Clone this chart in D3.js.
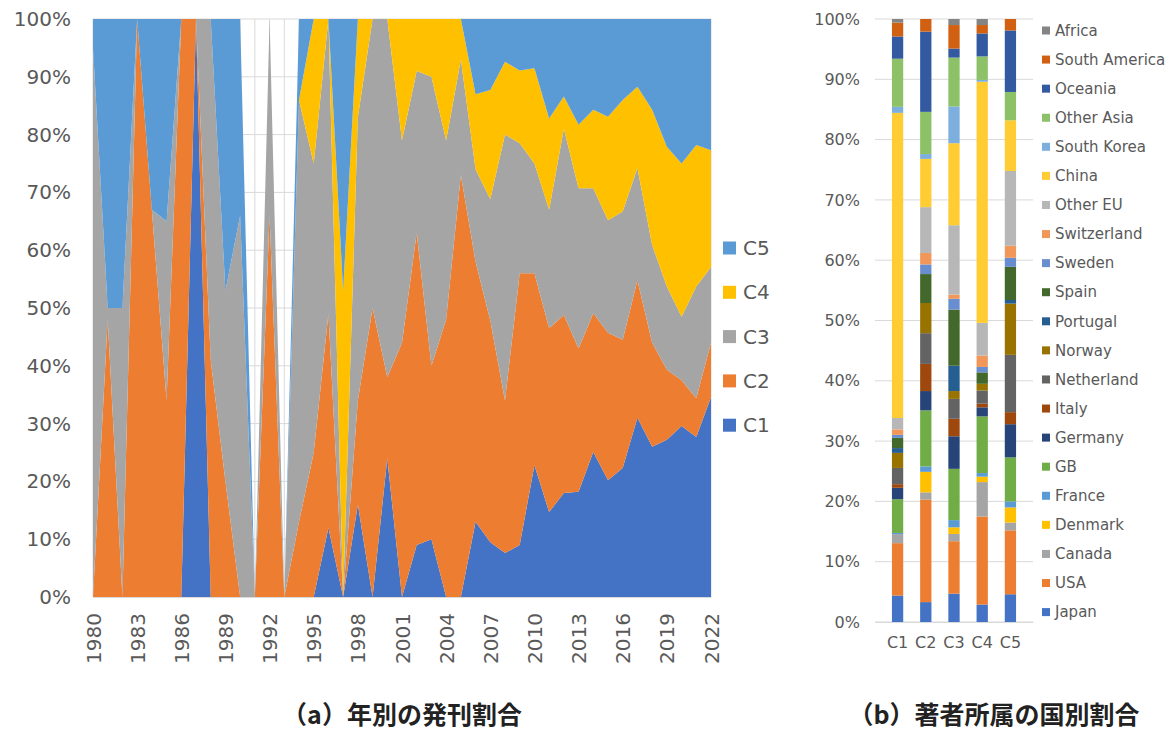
<!DOCTYPE html>
<html>
<head>
<meta charset="utf-8">
<script src="https://cdn.jsdelivr.net/npm/d3@7"></script>
<style>
  body { margin: 0; background: #fff; }
  text { font-family: "DejaVu Sans", Verdana, sans-serif; }
</style>
</head>
<body>
<div id="chart"></div>
<script>
// ---- (a) publication share by year, per cluster (percent) ----
const years = [1980,1981,1982,1983,1984,1985,1986,1987,1988,1989,1990,1991,1992,1993,1994,
  1995,1996,1997,1998,1999,2000,2001,2002,2003,2004,2005,2006,2007,2008,2009,2010,
  2011,2012,2013,2014,2015,2016,2017,2018,2019,2020,2021,2022];
const clusters = ["C1", "C2", "C3", "C4", "C5"];
const c1 = [0,0,0,0,0,0,0,100,0,0,0,0,0,0,0,
  0,12,0,16,0,24,0,9,10,0,0,13,9.5,7.6,9,22.8,
  14.7,18,18.2,25.1,20.2,22.3,31,26,27.2,29.6,27.7,34.6];
const c2 = [0,48,0,100,67,34,100,0,41,20,0,0,66,0,13,
  25,37,0,18,50,14,44,54,30,48,73,45,38.5,26.4,47,33.2,
  31.8,30.8,24.8,24,25.5,22.2,23.8,18,12.1,7.9,6.7,9.4];
const c3 = [95,2,50,0,0,31,0,0,59,33,66,0,34,0,73,
  50,51,0,49,50,62,35,28,50,31,20,16,21,46,22.5,19,
  20.5,32.2,27.7,21.6,19.5,22.2,19.4,16.9,14.4,11,19.3,13.1];
const c4 = [0,0,0,0,0,0,0,0,0,0,0,0,0,0,0,
  25,0,53,17,0,0,21,9,10,21,7,13,19,12.6,12.6,16.5,
  15.8,5.6,11,13.6,17.9,19.3,14.1,23.4,24.2,26.5,24.5,20.2];
const c5 = [5,50,50,0,33,35,0,0,0,47,34,0,0,0,14,
  0,0,47,0,0,0,0,0,0,0,0,13,12.3,7.4,8.9,8.5,
  17.2,13.4,18.3,15.7,16.9,14,11.7,15.7,22.1,25,21.8,22.7];
const yearTicks = [1980,1983,1986,1989,1992,1995,1998,2001,2004,2007,2010,2013,2016,2019,2022];
const clusterColors = ["#4472C4", "#ED7D31", "#A5A5A5", "#FFC000", "#5B9BD5"];

// ---- (b) author affiliation share by country, per cluster (percent) ----
const countries = ["Japan","USA","Canada","Denmark","France","GB","Germany","Italy","Netherland",
  "Norway","Portugal","Spain","Sweden","Switzerland","Other EU","China","South Korea",
  "Other Asia","Oceania","South America","Africa"];
const shareC1 = [4.4,8.7,1.5,0,0.2,5.6,1.9,0.6,2.7,2.5,0.8,1.7,0.5,0.9,1.9,50.7,1.0,8.0,3.7,2.3,0.6];
const shareC2 = [3.3,17.0,1.2,3.4,0.9,9.3,3.2,4.5,5.1,5.0,0,4.8,1.6,1.9,7.6,8.0,0.8,7.0,13.3,2.1,0];
const shareC3 = [4.7,8.7,1.2,1.1,1.2,8.5,5.4,2.9,3.3,1.3,4.2,9.3,1.8,0.7,11.5,13.6,6.1,8.1,1.5,3.9,1.0];
const shareC4 = [2.9,14.6,5.7,0.9,0.6,9.4,1.5,0.6,2.2,1.1,0,1.9,0.9,1.9,5.4,40.0,0.3,3.9,3.8,1.4,1.0];
const shareC5 = [4.6,10.6,1.3,2.5,1.0,7.3,5.5,2.0,9.5,8.5,0.6,5.5,1.5,2.0,12.4,8.4,0,4.7,10.2,1.9,0];
const countryColors = ["#4472C4","#ED7D31","#A5A5A5","#FFC000","#5B9BD5","#70AD47","#264478",
  "#9E480E","#636363","#997300","#255E91","#43682B","#698ED0","#F1975A","#B7B7B7","#FFCD33",
  "#7CAFDD","#8CC168","#335AA1","#D26012","#848484"];

const W = 1170, H = 731;
const gridColor = "#D9D9D9", textColor = "#595959";

const svg = d3.select("#chart").append("svg")
  .attr("width", W).attr("height", H);

// ================= left: 100% stacked area =================
const rowsA = years.map((yr, i) => ({year: yr, C1: c1[i], C2: c2[i], C3: c3[i], C4: c4[i], C5: c5[i]}));

const xA = d3.scalePoint().domain(years).range([93, 711]);
const yA = d3.scaleLinear().domain([0, 1]).range([597, 19]);

const gA = svg.append("g");

// gridlines (horizontal + vertical at each year)
gA.append("g").selectAll("line")
  .data(years)
  .join("line")
    .attr("x1", d => xA(d)).attr("x2", d => xA(d))
    .attr("y1", yA(0)).attr("y2", yA(1))
    .attr("stroke", gridColor).attr("stroke-width", 1);
gA.append("g").selectAll("line")
  .data(d3.range(0, 1.01, 0.1))
  .join("line")
    .attr("x1", 93).attr("x2", 711)
    .attr("y1", d => yA(d)).attr("y2", d => yA(d))
    .attr("stroke", gridColor).attr("stroke-width", 1);

const stackA = d3.stack().keys(clusters).offset(d3.stackOffsetExpand)(rowsA);
const area = d3.area()
  .x(d => xA(d.data.year))
  .y0(d => yA(d[0]))
  .y1(d => yA(d[1]));

gA.append("g").selectAll("path")
  .data(stackA)
  .join("path")
    .attr("d", area)
    .attr("fill", (d, i) => clusterColors[i]);

// y axis
const yAxisA = gA.append("g")
  .attr("transform", "translate(93,0)")
  .call(d3.axisLeft(yA).ticks(10).tickFormat(d3.format(".0%")).tickSize(0).tickPadding(22));
yAxisA.select(".domain").remove();
yAxisA.selectAll("text").attr("font-size", 20).attr("fill", textColor)
  .style("font-family", '"DejaVu Sans", sans-serif');

// x axis
const xAxisA = gA.append("g")
  .attr("transform", `translate(0,${yA(0)})`)
  .call(d3.axisBottom(xA).tickValues(yearTicks).tickSize(0));
xAxisA.select(".domain").attr("stroke", gridColor);
xAxisA.selectAll("text")
  .attr("font-size", 20).attr("fill", textColor)
  .style("font-family", '"DejaVu Sans", sans-serif')
  .attr("text-anchor", "end")
  .attr("transform", "rotate(-90)")
  .attr("x", -16).attr("y", 0).attr("dy", "0.35em");

// legend (C5 on top)
const legA = gA.append("g").selectAll("g")
  .data(clusters.slice().reverse())
  .join("g")
    .attr("transform", (d, i) => `translate(723,${248 + i * 44.3})`);
legA.append("rect")
  .attr("x", 0).attr("y", -6.5).attr("width", 13).attr("height", 13)
  .attr("fill", d => clusterColors[clusters.indexOf(d)]);
legA.append("text")
  .attr("x", 20).attr("dy", "0.35em")
  .attr("font-size", 20).attr("fill", textColor)
  .text(d => d);

// ================= right: 100% stacked bars =================
const shares = [shareC1, shareC2, shareC3, shareC4, shareC5];
const rowsB = clusters.map((c, j) => {
  const row = {cluster: c};
  countries.forEach((k, i) => { row[k] = shares[j][i]; });
  return row;
});

const xB = d3.scaleBand().domain(clusters).range([875, 1033]).padding(0.6);
const yB = d3.scaleLinear().domain([0, 1]).range([622, 19]);

const gB = svg.append("g");
gB.append("g").selectAll("line")
  .data(d3.range(0, 1.01, 0.1))
  .join("line")
    .attr("x1", 875).attr("x2", 1033)
    .attr("y1", d => yB(d)).attr("y2", d => yB(d))
    .attr("stroke", gridColor).attr("stroke-width", 1);

const stackB = d3.stack().keys(countries).offset(d3.stackOffsetExpand)(rowsB);
gB.append("g").selectAll("g")
  .data(stackB)
  .join("g")
    .attr("fill", (d, i) => countryColors[i])
  .selectAll("rect")
  .data(d => d)
  .join("rect")
    .attr("x", d => xB(d.data.cluster))
    .attr("width", xB.bandwidth())
    .attr("y", d => yB(d[1]))
    .attr("height", d => yB(d[0]) - yB(d[1]));

const yAxisB = gB.append("g")
  .attr("transform", "translate(875,0)")
  .call(d3.axisLeft(yB).ticks(10).tickFormat(d3.format(".0%")).tickSize(0).tickPadding(15));
yAxisB.select(".domain").remove();
yAxisB.selectAll("text").attr("font-size", 16).attr("fill", textColor)
  .style("font-family", '"DejaVu Sans", sans-serif');

const xAxisB = gB.append("g")
  .attr("transform", `translate(0,${yB(0)})`)
  .call(d3.axisBottom(xB).tickSize(0).tickPadding(15));
xAxisB.select(".domain").attr("stroke", gridColor);
xAxisB.selectAll("text").attr("font-size", 16).attr("fill", textColor)
  .style("font-family", '"DejaVu Sans", sans-serif');

// legend (Africa on top)
const legB = gB.append("g").selectAll("g")
  .data(countries.slice().reverse())
  .join("g")
    .attr("transform", (d, i) => `translate(1042,${30.5 + i * 29.08})`);
legB.append("rect")
  .attr("x", 0).attr("y", -4).attr("width", 8).attr("height", 8)
  .attr("fill", d => countryColors[countries.indexOf(d)]);
legB.append("text")
  .attr("x", 13).attr("dy", "0.35em")
  .attr("font-size", 15).attr("fill", textColor)
  .text(d => d);

// ================= captions =================
svg.append("text")
  .attr("x", 402).attr("y", 724)
  .attr("text-anchor", "middle")
  .style("font-family", '"Noto Sans CJK JP", sans-serif')
  .attr("font-weight", "bold").attr("font-size", 25).attr("fill", "#222")
  .text("（a）年別の発刊割合");
svg.append("text")
  .attr("x", 994).attr("y", 724)
  .attr("text-anchor", "middle")
  .style("font-family", '"Noto Sans CJK JP", sans-serif')
  .attr("font-weight", "bold").attr("font-size", 25).attr("fill", "#222")
  .text("（b）著者所属の国別割合");
</script>
</body>
</html>
